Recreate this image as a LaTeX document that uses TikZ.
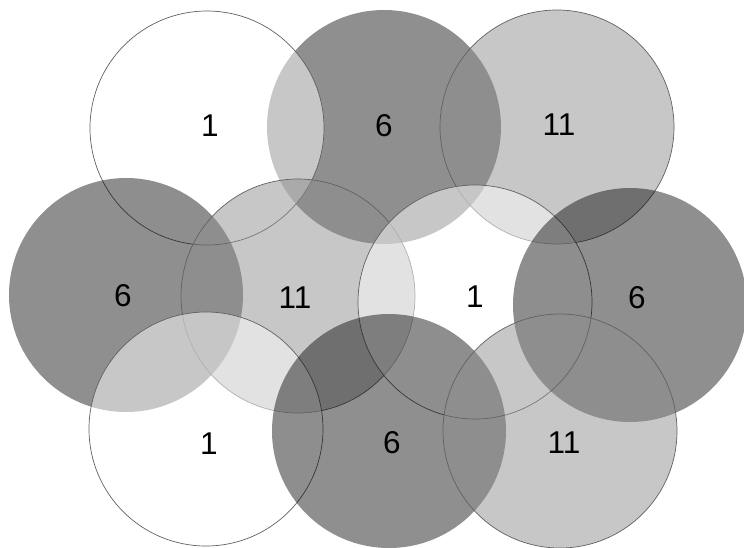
\documentclass[tikz,border=0pt]{standalone}
\usepackage{fontspec}
\setmainfont{Liberation Sans}

\begin{document}
\begin{tikzpicture}[
  x=1pt, y=-1pt,
  cell/.style={circle, minimum size=234pt, inner sep=0pt, outer sep=0pt},
  chone/.style={cell, draw=black!62, line width=0.7pt, fill=white, fill opacity=0.5},
  chsix/.style={cell, fill=black, fill opacity=0.44},
  chelev/.style={cell, draw=black!62, line width=0.7pt, fill=black!44, fill opacity=0.5},
  chan/.style={font=\fontsize{31.5}{31.5}\selectfont, inner sep=0pt}
]
\useasboundingbox (0,0) rectangle (744,547);

% cells, back to front
\node[chsix]  (sixA)  at (384,127) {};
\node[chelev] (elevA) at (557,127) {};
\node[chone]  (oneA)  at (207,128) {};
\node[chsix]  (sixB)  at (126,295) {};
\node[chelev] (elevB) at (298,296) {};
\node[chone]  (oneB)  at (475,302) {};
\node[chone]  (oneC)  at (206,429) {};
\node[chsix]  (sixC)  at (630,305) {};
\node[chsix]  (sixD)  at (389,431) {};
\node[chelev] (elevC) at (560,431) {};

% channel numbers
\node[chan] (loneA)  at (210,126) {1};
\node[chan] (lsixA)  at (384,126) {6};
\node[chan] (lelevA) at (559,125) {11};
\node[chan] (lsixB)  at (123,296) {6};
\node[chan] (lelevB) at (295,298) {11};
\node[chan] (loneB)  at (475,297) {1};
\node[chan] (lsixC)  at (637,298) {6};
\node[chan] (loneC)  at (209,444) {1};
\node[chan] (lsixD)  at (392,443) {6};
\node[chan] (lelevC) at (564,443) {11};
\end{tikzpicture}
\end{document}
